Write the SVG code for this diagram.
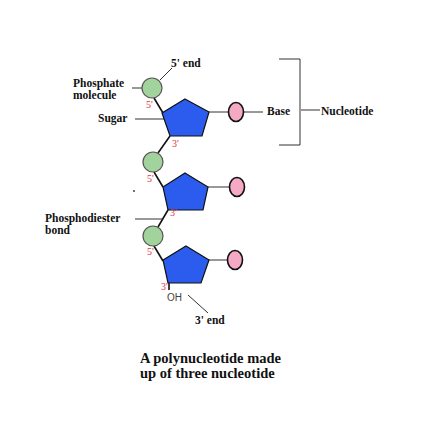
<svg xmlns="http://www.w3.org/2000/svg" width="421" height="441" viewBox="0 0 421 441">
<style>
.lbl{font-family:"Liberation Serif",serif;font-weight:bold;font-size:11.5px;fill:#111}
.cap{font-family:"Liberation Serif",serif;font-weight:bold;font-size:14.5px;fill:#111}
.red{font-family:"Liberation Serif",serif;font-size:10px;fill:#e0343c}
.ph{fill:#a3d39c;stroke:#555;stroke-width:1.2}
.sug{fill:#2c5ced;stroke:#111;stroke-width:1.2}
.base{fill:#f6a9c4;stroke:#111;stroke-width:1.6}
.ln{stroke:#333;stroke-width:1;fill:none}
.bond{stroke:#111;stroke-width:1.6;fill:none}
</style>
<rect width="421" height="441" fill="#fff"/>
<g id="connectors">
<line class="bond" x1="154" y1="98" x2="163" y2="113"/>
<line class="bond" x1="170" y1="136" x2="158" y2="153"/>
<line class="bond" x1="154" y1="172" x2="163" y2="187"/>
<line class="bond" x1="168" y1="210" x2="158" y2="227"/>
<line class="bond" x1="154" y1="246" x2="163" y2="261"/>
<line class="bond" x1="169" y1="283" x2="169" y2="290"/>
<line class="ln" x1="209" y1="112" x2="228" y2="112"/>
<line class="ln" x1="208" y1="187" x2="229" y2="187"/>
<line class="ln" x1="209" y1="260" x2="227" y2="260"/>
<line class="ln" x1="244" y1="112" x2="263" y2="112"/>
<line class="ln" x1="160" y1="80" x2="172" y2="68"/>
<line class="ln" x1="132" y1="88" x2="142" y2="88"/>
<line class="ln" x1="135" y1="119" x2="182" y2="119"/>
<line class="ln" x1="135" y1="219" x2="162" y2="219"/>
<line class="ln" x1="188" y1="295" x2="208" y2="313"/>
<polyline class="ln" points="279,59 300,59 300,145 279,145" stroke-width="1.3"/>
<line class="ln" x1="301" y1="110" x2="320" y2="110"/>
</g>
<g id="nucleotide1">
<circle class="ph" cx="152" cy="88" r="10"/>
<polygon class="sug" points="185,99 209,112 202,136 170,136 162,113"/>
<ellipse class="base" cx="236" cy="112" rx="7.5" ry="9.5"/>
<text class="red" x="146" y="108">5'</text>
<text class="red" x="172" y="147">3'</text>
</g>
<g id="nucleotide2">
<circle class="ph" cx="153" cy="162" r="10"/>
<polygon class="sug" points="185,173 208,187 203,210 168,210 163,187"/>
<ellipse class="base" cx="237" cy="187" rx="7.5" ry="9.5"/>
<text class="red" x="147" y="182">5'</text>
<text class="red" x="170" y="216">3'</text>
</g>
<g id="nucleotide3">
<circle class="ph" cx="153" cy="236" r="10"/>
<polygon class="sug" points="186,246 209,260 201,283 168,283 163,260"/>
<ellipse class="base" cx="235" cy="260" rx="7.5" ry="9.5"/>
<text class="red" x="147" y="255">5'</text>
<text class="red" x="161" y="290">3'</text>
<text x="167" y="301" font-family="Liberation Sans,sans-serif" font-size="10" fill="#444">OH</text>
</g>
<circle cx="134" cy="191" r="0.9" fill="#333"/>
<g id="labels">
<text class="lbl" x="73" y="87">Phosphate</text>
<text class="lbl" x="73" y="99">molecule</text>
<text class="lbl" x="98" y="122">Sugar</text>
<text class="lbl" x="171" y="67">5' end</text>
<text class="lbl" x="267" y="115">Base</text>
<text class="lbl" x="321" y="115">Nucleotide</text>
<text class="lbl" x="45" y="222">Phosphodiester</text>
<text class="lbl" x="45" y="234">bond</text>
<text class="lbl" x="195" y="324">3' end</text>
<text class="cap" x="140" y="363">A polynucleotide made</text>
<text class="cap" x="140" y="378">up of three nucleotide</text>
</g>
</svg>
